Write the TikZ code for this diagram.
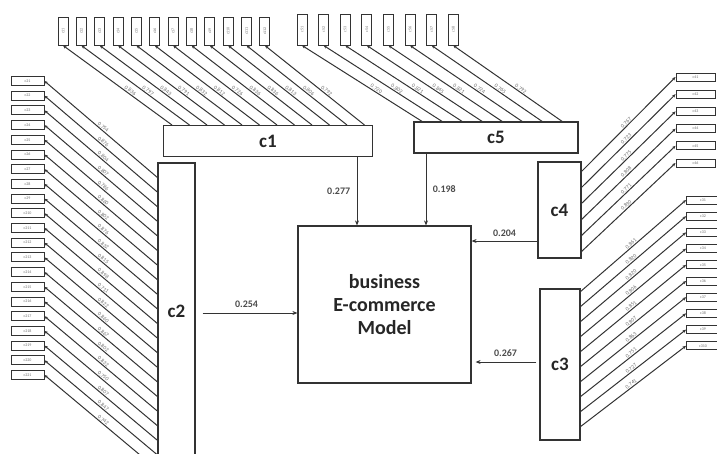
\documentclass[tikz,border=0pt]{standalone}
\usepackage{fontspec}
\setmainfont{Carlito}
\usetikzlibrary{arrows.meta}
\definecolor{linecol}{HTML}{333333}
\definecolor{labcol}{HTML}{707070}
\begin{document}
\begin{tikzpicture}[x=1pt,y=-1pt,
  construct/.style={draw=linecol, line width=1.2pt, fill=white, font=\fontsize{19}{19}\selectfont\bfseries, text=black!85, inner sep=0},
  indv/.style={draw=linecol, line width=0.9pt, fill=white, minimum width=10pt, minimum height=28pt, inner sep=0, font=\fontsize{4}{4}\selectfont, text=labcol},
  indh/.style={draw=linecol, line width=0.9pt, fill=white, minimum width=33pt, minimum height=9pt, inner sep=0, font=\fontsize{4}{4}\selectfont, text=labcol},
  link/.style={draw=linecol, line width=1pt, -{Stealth[length=3.5pt,width=3pt]}},
  relpath/.style={draw=linecol, line width=1pt, -{Stealth[length=5pt,width=4pt]}},
  loading/.style={font=\fontsize{5.5}{5.5}\selectfont, text=labcol, sloped, above, inner sep=0.8pt},
  coef/.style={font=\fontsize{10}{10}\selectfont\bfseries, text=black!70}]
\useasboundingbox (0,0) rectangle (717,453);
\clip (0,0) rectangle (717,453);

% ---- c1 indicators (top left)
\foreach \val [count=\i from 0] in {0.836,0.797,0.843,0.791,0.832,0.812,0.726,0.836,0.836,0.813,0.806,0.792} {
  \pgfmathsetmacro\bx{63+18.35*\i}
  \pgfmathsetmacro\ex{172+17.5*\i}
  \pgfmathtruncatemacro\n{\i+1}
  \node[indv] (ia\n) at (\bx,31) {\rotatebox{90}{c1\n}};
  \coordinate (ea\n) at (\ex,125);
  \draw[link] (ea\n) -- node[loading,pos=0.4] {\val} (ia\n.south);
}
% ---- c5 indicators (top right)
\foreach \val [count=\i from 0] in {0.720,0.802,0.821,0.845,0.821,0.724,0.765,0.792} {
  \pgfmathsetmacro\bx{302+21.6*\i}
  \pgfmathsetmacro\ex{423+20*\i}
  \pgfmathtruncatemacro\n{\i+1}
  \node[indv, minimum height=31pt] (ie\n) at (\bx,29.5) {\rotatebox{90}{c5\n}};
  \coordinate (ee\n) at (\ex,122);
  \draw[link] (ee\n) -- node[loading,pos=0.4] {\val} (ie\n.south);
}
% ---- c2 indicators (left)
\foreach \val [count=\i from 0] in {0.754,0.876,0.804,0.807,0.786,0.860,0.802,0.876,0.832,0.815,0.898,0.711,0.822,0.860,0.867,0.802,0.832,0.750,0.807,0.847,0.742} {
  \pgfmathsetmacro\by{81+14.7*\i}
  \pgfmathsetmacro\ey{178+14.6*\i}
  \pgfmathtruncatemacro\n{\i+1}
  \node[indh] (ib\n) at (27.5,\by) {c2\n};
  \coordinate (eb\n) at (158,\ey);
  \draw[link] (eb\n) -- node[loading,pos=0.5] {\val} (ib\n.east);
}
% ---- c4 indicators (right, upper)
\foreach \val [count=\i from 0] in {0.767,0.723,0.775,0.808,0.771,0.830} {
  \pgfmathsetmacro\by{77+17.2*\i}
  \pgfmathsetmacro\ey{172+16*\i}
  \pgfmathtruncatemacro\n{\i+1}
  \node[indh, minimum width=39pt, minimum height=8pt] (id\n) at (695.5,\by) {c4\n};
  \coordinate (ed\n) at (581,\ey);
  \draw[link] (ed\n) -- node[loading,pos=0.5] {\val} (id\n.west);
}
% ---- c3 indicators (right, lower)
\foreach \val [count=\i from 0] in {0.861,0.820,0.820,0.806,0.851,0.807,0.863,0.751,0.727,0.741} {
  \pgfmathsetmacro\by{200+16.2*\i}
  \pgfmathsetmacro\ey{292+15*\i}
  \pgfmathtruncatemacro\n{\i+1}
  \node[indh, minimum width=33pt, minimum height=8pt] (ic\n) at (703,\by) {c3\n};
  \coordinate (ec\n) at (580,\ey);
  \draw[link] (ec\n) -- node[loading,pos=0.5] {\val} (ic\n.west);
}

% ---- constructs
\node[construct, minimum width=209pt, minimum height=31pt] (c1) at (268,141) {c1};
\node[construct, minimum width=164pt, minimum height=31pt] (c5) at (496,137.5) {c5};
\node[construct, minimum width=37pt, minimum height=297pt] (c2) at (176.5,311.5) {c2};
\node[construct, minimum width=43pt, minimum height=96pt] (c4) at (559.5,210) {c4};
\node[construct, minimum width=40pt, minimum height=151pt] (c3) at (560,364.5) {c3};
\node[construct, minimum width=173pt, minimum height=157pt, align=center,
      font=\fontsize{20}{23}\selectfont\bfseries] (main) at (384.5,304.5)
      {business\\E-commerce\\Model};

% ---- structural paths
\coordinate (xa) at (357,0);
\coordinate (xe) at (426,0);
\coordinate (yd) at (0,241);
\coordinate (yb) at (0,313);
\coordinate (yc) at (0,362);
\draw[relpath] (c1.south -| xa) -- node[coef, left=3pt] {0.277} (main.north -| xa);
\draw[relpath] (c5.south -| xe) -- node[coef, right=3pt] {0.198} (main.north -| xe);
\draw[relpath] (c4.west |- yd) -- node[coef, above=1pt] {0.204} (main.east |- yd);
\draw[relpath, shorten <=7pt] (c2.east |- yb) -- node[coef, above=2pt] {0.254} (main.west |- yb);
\draw[relpath, shorten <=3pt, shorten >=4pt] (c3.west |- yc) -- node[coef, above=2pt] {0.267} (main.east |- yc);
\end{tikzpicture}
\end{document}
